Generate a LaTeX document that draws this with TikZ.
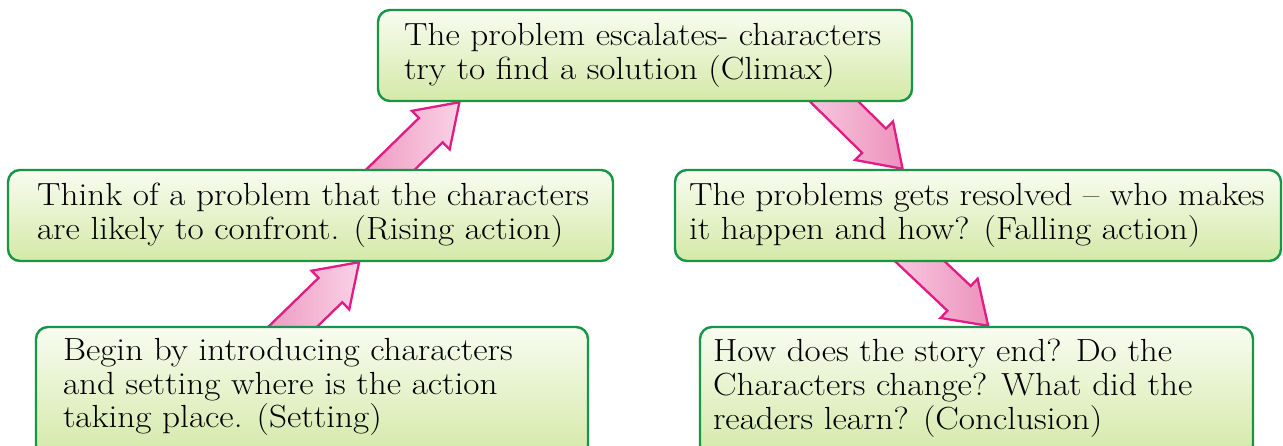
\documentclass[tikz,border=0pt]{standalone}
\usepackage{fontspec}
\setmainfont{Latin Modern Roman}[FakeStretch=1.1]
\usetikzlibrary{calc,backgrounds}
\definecolor{boxgreen}{RGB}{24,150,72}
\definecolor{boxtop}{RGB}{248,252,240}
\definecolor{boxbot}{RGB}{212,233,168}
\definecolor{arrowline}{RGB}{226,28,132}
\definecolor{pinklight}{RGB}{249,210,229}
\definecolor{pinkdark}{RGB}{237,145,188}
\tikzset{
  storybox/.style={draw=boxgreen, line width=2.4pt, rounded corners=12pt,
    top color=boxtop, bottom color=boxbot, inner sep=0pt},
  storytext/.style={anchor=west, align=left, inner sep=0pt,
    font=\fontsize{32}{33.8}\selectfont},
  fatarrow/.style={draw=arrowline, line width=2.3pt, line join=miter},
  uparrow/.style={fatarrow, left color=pinkdark, right color=pinklight},
  downarrow/.style={fatarrow, left color=pinklight, right color=pinkdark},
}
% #1 = point on the edge of the source box, #2 = tip, #3 = style
\newcommand\blockarrow[3]{%
  \coordinate (ba-t) at ($(#2)!1.45!(#1)$);
  \coordinate (ba-n) at ($(#2)!40pt!(#1)$);
  \path[#3] ($(ba-t)!17pt!90:(#2)$) -- ($(ba-n)!17pt!90:(#2)$)
    -- ($(ba-n)!27pt!90:(#2)$) -- (#2) -- ($(ba-n)!27pt!-90:(#2)$)
    -- ($(ba-n)!17pt!-90:(#2)$) -- ($(ba-t)!17pt!-90:(#2)$) -- cycle;
}
\begin{document}
\begin{tikzpicture}[x=1pt,y=-1pt]
\useasboundingbox (0,0) rectangle (1283,446);
\clip (0,0) rectangle (1283,446);
% boxes
\node[storybox, minimum width=534pt, minimum height=91pt] (climax) at (645,55.5) {};
\node[storytext] (climax-t) at ($(climax.west)+(27,0)$)
  {The problem escalates- characters\\try to find a solution (Climax)};
\node[storybox, minimum width=605pt, minimum height=91pt] (rising) at (310.5,215.5) {};
\node[storytext] (rising-t) at ($(rising.west)+(30,0)$)
  {Think of a problem that the characters\\are likely to confront. (Rising action)};
\node[storybox, minimum width=606pt, minimum height=91pt] (falling) at (978,215.5) {};
\node[storytext] (falling-t) at ($(falling.west)+(15,0)$)
  {The problems gets resolved -- who makes\\it happen and how? (Falling action)};
\node[storybox, minimum width=552pt, minimum height=130pt] (setting) at (312,392) {};
\node[storytext] (setting-t) at ($(setting.west)+(28,-5)$)
  {Begin by introducing characters\\and setting where is the action\\taking place. (Setting)};
\node[storybox, minimum width=553pt, minimum height=130pt] (concl) at (976.5,392) {};
\node[storytext] (concl-t) at ($(concl.west)+(14,-4)$)
  {How does the story end? Do the\\Characters change? What did the\\readers learn? (Conclusion)};
% arrows, behind the boxes
\begin{scope}[on background layer]
  \fill[white] (0,0) rectangle (1283,446);
  \coordinate (a1s) at ($(setting.north west)!0.467!(setting.north east)$);
  \coordinate (a1e) at ($(rising.south west)!0.580!(rising.south east)$);
  \blockarrow{a1s}{a1e}{uparrow}
  \coordinate (a2s) at ($(rising.north west)!0.633!(rising.north east)$);
  \coordinate (a2e) at ($(climax.south west)!0.154!(climax.south east)$);
  \blockarrow{a2s}{a2e}{uparrow}
  \coordinate (a3s) at ($(climax.south west)!0.854!(climax.south east)$);
  \coordinate (a3e) at ($(falling.north west)!0.376!(falling.north east)$);
  \blockarrow{a3s}{a3e}{downarrow}
  \coordinate (a4s) at ($(falling.south west)!0.406!(falling.south east)$);
  \coordinate (a4e) at ($(concl.north west)!0.521!(concl.north east)$);
  \blockarrow{a4s}{a4e}{downarrow}
\end{scope}
\end{tikzpicture}
\end{document}
